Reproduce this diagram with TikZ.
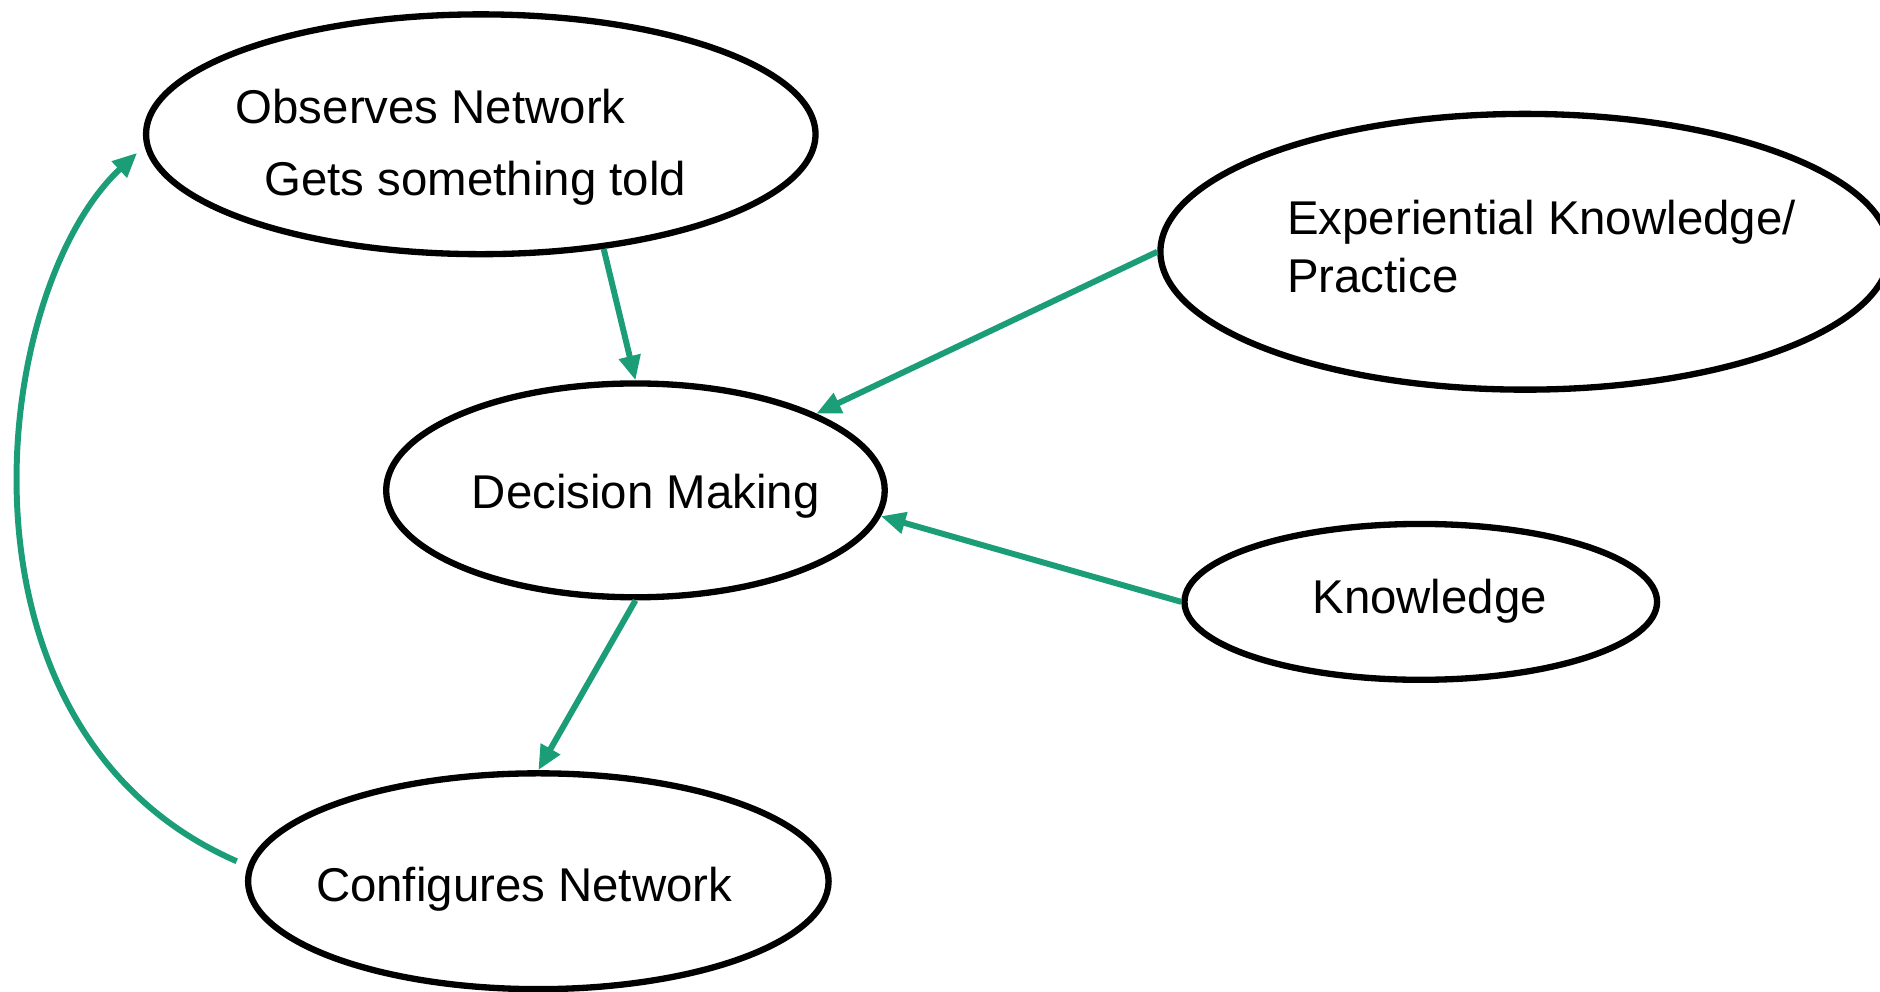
\documentclass[tikz,border=0pt]{standalone}
\usepackage{fontspec}
\setmainfont{Liberation Sans}
\usetikzlibrary{shapes.geometric,arrows.meta}
\definecolor{flowgreen}{RGB}{27,158,119}

\begin{document}
\begin{tikzpicture}[auto,
        state/.style={draw, ellipse, line width=1.8pt, inner sep=0pt},
        txt/.style={anchor=base west, inner sep=0pt, font=\fontsize{13.5}{16}\selectfont},
        flow/.style={draw=flowgreen, line width=1.7pt, -{Triangle[length=7pt, width=6pt]}}]
        \useasboundingbox (0, 0) rectangle (18.816, 9.924);

        \node[state, minimum width=6.70cm, minimum height=2.40cm] (ON) at (4.812, 8.58) {};
        \node[state, minimum width=4.99cm, minimum height=2.14cm] (DM) at (6.36, 5.016) {};
        \node[state, minimum width=7.30cm, minimum height=2.76cm] (EKP) at (15.264, 7.404) {};
        \node[state, minimum width=4.73cm, minimum height=1.56cm] (K) at (14.22, 3.9) {};
        \node[state, minimum width=5.81cm, minimum height=2.16cm] (CN) at (5.388, 1.104) {};

        \node[txt] (ON1) at (2.352, 8.688) {Observes Network};
        \node[txt] (ON2) at (2.64, 7.968) {Gets something told};
        \node[txt] (EKP1) at (12.876, 7.572) {Experiential Knowledge/};
        \node[txt] (EKP2) at (12.876, 6.996) {Practice};
        \node[txt] (DMt) at (4.716, 4.836) {Decision Making};
        \node[txt] (Kt) at (13.128, 3.78) {Knowledge};
        \node[txt] (CNt) at (3.156, 0.9) {Configures Network};

        \draw[flow] (ON.-43) to (DM.north);
        \draw[flow] (EKP.west) to (DM.23);
        \draw[flow] (K.west) to (DM.-6);
        \draw[flow] (DM.south) to (CN.north);
        \draw[flow, shorten <=0.12cm, shorten >=0.1cm] (CN.177) .. controls +(-3.1, 1.35) and +(-1.55, -1.45) .. (ON.182);
      \end{tikzpicture}
\end{document}
